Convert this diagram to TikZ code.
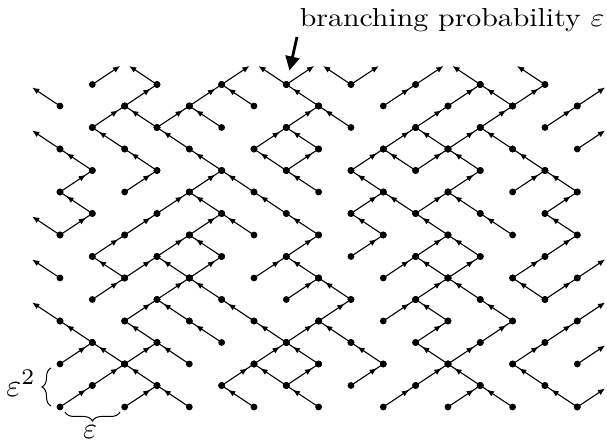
\documentclass[tikz,border=0pt]{standalone}
\usepackage{graphicx}
\usetikzlibrary{arrows.meta,decorations.markings,decorations.pathreplacing}
\begin{document}
\begin{tikzpicture}[x=16.165pt,y=10.75pt,
  edgeline/.style={line width=0.55pt, postaction={decorate},
    decoration={markings, mark=at position 0.8 with {\arrow{Latex[length=3.6pt,width=3pt]}}}},
  bedge/.style={line width=0.55pt, -{Latex[length=3.6pt,width=3pt]}, shorten >=2.7pt},
  bracestyle/.style={line width=0.5pt, decorate},
  ptr/.style={line width=1.4pt, -{Triangle[length=7pt,width=7pt]}, shorten >=7.2pt}]
\useasboundingbox (-30pt,-18.5pt) rectangle (273.5pt,203.5pt);
\clip (-30pt,-18.5pt) rectangle (273.5pt,203.5pt);
\foreach \k in {-1,...,17}{\foreach \r in {0,...,16}{\coordinate (p\k-\r) at (\k,\r);}}
% interior edges
\foreach \a/\b/\c/\d in {
 0/0/1/1, 2/0/3/1, 4/0/3/1, 6/0/5/1, 8/0/7/1, 10/0/11/1, 12/0/13/1, 14/0/13/1, 16/0/15/1,
 1/1/2/2, 3/1/2/2, 5/1/6/2, 7/1/6/2, 7/1/8/2, 9/1/10/2, 11/1/12/2, 13/1/12/2, 15/1/14/2,
 0/2/1/3, 2/2/1/3, 2/2/3/3, 4/2/3/3, 6/2/7/3, 8/2/7/3, 10/2/9/3, 12/2/11/3, 12/2/13/3, 14/2/15/3,
 1/3/0/4, 3/3/2/4, 5/3/4/4, 7/3/6/4, 7/3/8/4, 9/3/8/4, 11/3/12/4, 13/3/14/4, 15/3/16/4,
 2/4/3/5, 4/4/3/5, 6/4/5/5, 8/4/9/5, 10/4/11/5, 12/4/11/5, 14/4/13/5,
 1/5/2/6, 3/5/4/6, 5/5/4/6, 7/5/8/6, 9/5/8/6, 11/5/12/6, 13/5/12/6, 15/5/14/6, 15/5/16/6,
 2/6/1/7, 2/6/3/7, 4/6/3/7, 4/6/5/7, 6/6/7/7, 8/6/7/7, 10/6/11/7, 12/6/11/7, 12/6/13/7, 14/6/15/7,
 1/7/2/8, 3/7/4/8, 5/7/4/8, 7/7/8/8, 9/7/10/8, 11/7/12/8, 13/7/12/8, 15/7/16/8,
 0/8/1/9, 2/8/3/9, 4/8/5/9, 6/8/5/9, 8/8/7/9, 10/8/9/9, 12/8/11/9, 14/8/13/9, 16/8/15/9,
 1/9/0/10, 3/9/4/10, 5/9/4/10, 7/9/6/10, 9/9/10/10, 11/9/10/10, 11/9/12/10, 13/9/12/10, 15/9/16/10,
 0/10/1/11, 2/10/3/11, 4/10/5/11, 6/10/5/11, 8/10/7/11, 10/10/9/11, 12/10/13/11, 14/10/15/11, 16/10/15/11,
 1/11/0/12, 3/11/2/12, 5/11/4/12, 7/11/6/12, 7/11/8/12, 9/11/10/12, 11/11/10/12, 11/11/12/12, 13/11/12/12, 15/11/14/12,
 2/12/1/13, 4/12/3/13, 6/12/7/13, 8/12/7/13, 10/12/11/13, 12/12/11/13, 12/12/13/13, 14/12/13/13,
 1/13/2/14, 3/13/2/14, 3/13/4/14, 5/13/4/14, 7/13/8/14, 9/13/8/14, 11/13/12/14, 13/13/14/14, 15/13/16/14,
 2/14/3/15, 4/14/5/15, 6/14/5/15, 8/14/7/15, 10/14/11/15, 12/14/13/15, 14/14/13/15, 14/14/15/15}
 {\draw[edgeline] (p\a-\b) -- (p\c-\d);
  \fill (p\a-\b) circle (1.7pt); \fill (p\c-\d) circle (1.7pt);}
% boundary edges
\foreach \a/\b/\c/\d in {
 16/0/17/1, 16/2/17/3, 0/4/-1/5, 16/4/17/5, 0/6/-1/7, 16/6/17/7, 0/8/-1/9,
 0/12/-1/13, 16/12/17/13, 0/14/-1/15, 16/14/17/15,
 1/15/2/16, 3/15/2/16, 5/15/6/16, 7/15/6/16, 7/15/8/16, 9/15/8/16, 9/15/10/16,
 11/15/12/16, 13/15/12/16, 15/15/14/16}
 {\draw[bedge] (p\a-\b) -- (p\c-\d); \fill (p\a-\b) circle (1.7pt);}
% label and pointer
\node[anchor=base east, inner sep=0pt] (lbl) at (272.5pt,190pt)
  {\scalebox{1.49}[1.3]{\fontsize{10}{12}\selectfont branching probability $\varepsilon$}};
\coordinate (ptrS) at (118.5pt,185pt);
\draw[ptr] (ptrS) -- (p7-15);
% braces
\coordinate (bL1) at (-4.5pt,0.5pt);
\coordinate (bL2) at (-4.5pt,19.5pt);
\draw[bracestyle, decoration={brace, amplitude=4.5pt}] (bL1) -- (bL2);
\node[inner sep=0pt] (e2) at (-19.5pt,12pt) {\scalebox{1.6}{\fontsize{10}{12}\selectfont$\varepsilon^2$}};
\coordinate (bB1) at (30pt,-2.5pt);
\coordinate (bB2) at (2.5pt,-2.5pt);
\draw[bracestyle, decoration={brace, amplitude=4.5pt}] (bB1) -- (bB2);
\node[inner sep=0pt] (e1) at (15pt,-12.6pt) {\scalebox{1.5}{\fontsize{10}{12}\selectfont$\varepsilon$}};
\end{tikzpicture}
\end{document}
